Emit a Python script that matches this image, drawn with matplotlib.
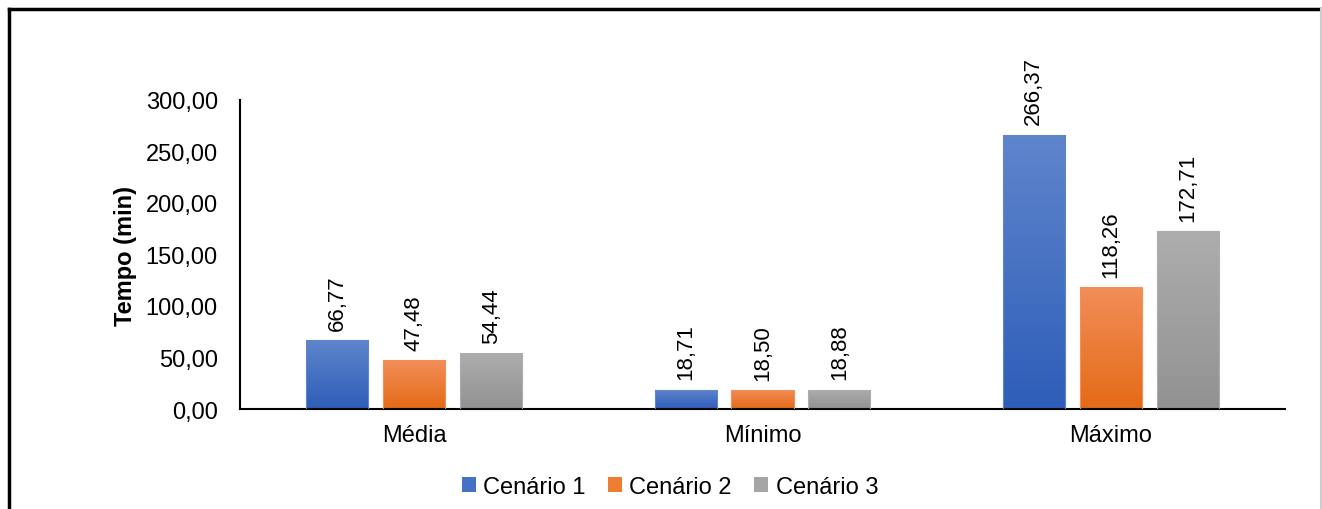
import numpy as np
import matplotlib
matplotlib.use("Agg")
import matplotlib.pyplot as plt
from matplotlib.colors import LinearSegmentedColormap
from matplotlib.patches import Patch
from matplotlib.lines import Line2D

plt.rcParams['font.family'] = ['Liberation Sans', 'DejaVu Sans']

categorias = ['Média', 'Mínimo', 'Máximo']
cenarios = ['Cenário 1', 'Cenário 2', 'Cenário 3']
cenario1 = [66.77, 18.71, 266.37]
cenario2 = [47.48, 18.50, 118.26]
cenario3 = [54.44, 18.88, 172.71]

# top / bottom gradient colours and legend colour for each series
cores = [('#5F85CC', '#2E5EB9', '#4472C4'),
         ('#F28E58', '#E46A17', '#ED7D31'),
         ('#ADADAD', '#929292', '#A5A5A5')]

fig = plt.figure(figsize=(13.22, 5.10), dpi=100)
ax = fig.add_axes([240/1322, 1 - 410/510, 1045/1322, 309/510])

x = np.arange(len(categorias))
largura = 0.178
passo = 0.221

for i, valores in enumerate([cenario1, cenario2, cenario3]):
    topo, base, _ = cores[i]
    cmap = LinearSegmentedColormap.from_list('g%d' % i, [base, topo])
    barras = ax.bar(x + (i - 1) * passo, valores, largura, color='none',
                    edgecolor=topo, linewidth=0.8, zorder=3)
    for b, v in zip(barras, valores):
        x0 = b.get_x()
        grad = np.linspace(0, 1, 256).reshape(-1, 1)
        im = ax.imshow(grad, cmap=cmap, origin='lower', aspect='auto',
                       extent=(x0, x0 + b.get_width(), 0, v), zorder=2)
        im.set_clip_path(b)
        ax.text(b.get_x() + b.get_width() / 2, v + 10,
                ('%.2f' % v).replace('.', ','), rotation=90,
                ha='center', va='bottom', fontsize=16)

ax.set_xlim(-0.5, 2.5)
ax.set_ylim(0, 300)
ax.set_yticks(np.arange(0, 301, 50))
ax.set_yticklabels([('%.2f' % t).replace('.', ',') for t in np.arange(0, 301, 50)],
                   fontsize=17)
ax.set_xticks(x)
ax.set_xticklabels(categorias, fontsize=17)
ax.tick_params(axis='both', length=0)
ax.tick_params(axis='y', pad=16)
ax.tick_params(axis='x', pad=11)
for s in ['top', 'right']:
    ax.spines[s].set_visible(False)
ax.spines['left'].set_linewidth(1.5)
ax.spines['bottom'].set_linewidth(1.5)
ax.set_ylabel('Tempo (min)', fontsize=17, fontweight='bold', labelpad=6)

handles = [Patch(facecolor=c[2], edgecolor='none') for c in cores]
fig.legend(handles, cenarios, loc='center', bbox_to_anchor=(670/1322, 1 - 488/510),
           ncol=3, frameon=False, fontsize=17, handlelength=0.6, handleheight=0.6,
           handletextpad=0.3, columnspacing=0.95)

# outer frame
fig.add_artist(Line2D([9/1322, 9/1322], [0, 1 - 10/510], color='black', lw=2.5))
fig.add_artist(Line2D([9/1322, 1321/1322], [1 - 10/510, 1 - 10/510], color='black', lw=2.5))
fig.add_artist(Line2D([1321/1322, 1321/1322], [0, 1 - 10/510], color='#cccccc', lw=1.5))

fig.savefig('out.png', dpi=100)
